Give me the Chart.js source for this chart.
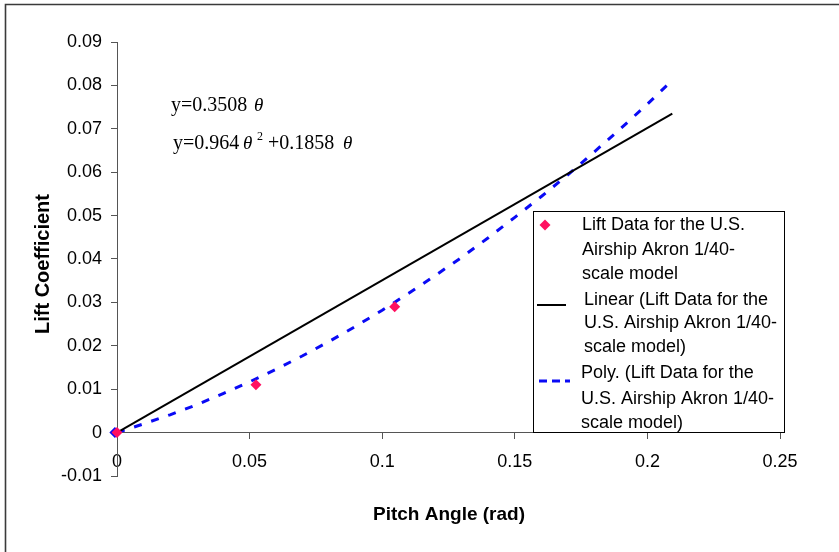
<!DOCTYPE html>
<html>
<head>
<meta charset="utf-8">
<script src="https://cdn.jsdelivr.net/npm/chart.js@4/dist/chart.umd.min.js"></script>
<style>
html,body{margin:0;padding:0;background:#fff;}
#wrap{width:839px;height:552px;position:relative;}
</style>
</head>
<body>
<div id="wrap"><canvas id="c" width="839" height="552"></canvas></div>
<script>
// ---- data ----
const xTickValues = [0, 0.05, 0.1, 0.15, 0.2, 0.25];
const xTickLabels = ['0', '0.05', '0.1', '0.15', '0.2', '0.25'];
const yTickValues = [-0.01, 0, 0.01, 0.02, 0.03, 0.04, 0.05, 0.06, 0.07, 0.08, 0.09];
const yTickLabels = ['-0.01', '0', '0.01', '0.02', '0.03', '0.04', '0.05', '0.06', '0.07', '0.08', '0.09'];

const liftX = [0, 0.0524, 0.1047];
const liftY = [0, 0.011, 0.029];

const linearX = [0, 0.2094];
const linearY = [0, 0.0735];

const polyX = [0, 0.01, 0.02, 0.03, 0.04, 0.05, 0.06, 0.07, 0.08, 0.09, 0.10, 0.11, 0.12, 0.13, 0.14, 0.15, 0.16, 0.17, 0.18, 0.19, 0.20, 0.2094];
const polyY = [0, 0.0020, 0.0041, 0.0064, 0.0090, 0.0117, 0.0146, 0.0177, 0.0210, 0.0245, 0.0282, 0.0321, 0.0362, 0.0404, 0.0449, 0.0496, 0.0544, 0.0594, 0.0647, 0.0701, 0.0757, 0.0812];

const blueMarkX = [-0.0008];
const blueMarkY = [0];

const legendLines = [
  ['Lift Data for the U.S.', 'Airship Akron 1/40-', 'scale model'],
  ['Linear (Lift Data for the', 'U.S. Airship Akron 1/40-', 'scale model)'],
  ['Poly. (Lift Data for the', 'U.S. Airship Akron 1/40-', 'scale model)']
];
const xTitle = 'Pitch Angle (rad)';
const yTitle = 'Lift Coefficient';
const eq1 = ['y=0.3508', '\u03B8'];
const eq2 = ['y=0.964', '\u03B8', '2', '+0.1858', '\u03B8'];

const zip = (xs, ys) => xs.map((x, i) => ({x: x, y: ys[i]}));

const RED = '#FF1060';
const BLUE = '#0A0AF5';
const AXIS = '#555555';

const decor = {
  id: 'decor',
  beforeDraw(chart) {
    const ctx = chart.ctx;
    ctx.save();
    ctx.fillStyle = '#fff';
    ctx.fillRect(0, 0, chart.width, chart.height);
    ctx.strokeStyle = '#3a3a3a';
    ctx.lineWidth = 1.6;
    ctx.beginPath();
    ctx.moveTo(5.5, 552);
    ctx.lineTo(5.5, 4.5);
    ctx.lineTo(839, 4.5);
    ctx.stroke();
    ctx.restore();
  },
  afterDraw(chart) {
    const ctx = chart.ctx;
    ctx.save();
    // axis titles
    ctx.fillStyle = '#000';
    ctx.textAlign = 'center';
    ctx.textBaseline = 'middle';
    ctx.font = 'bold 19px "Liberation Sans", Arial, sans-serif';
    ctx.fillText(xTitle, 449, 515);
    ctx.save();
    ctx.translate(43, 264);
    ctx.rotate(-Math.PI / 2);
    ctx.font = 'bold 20px "Liberation Sans", Arial, sans-serif';
    ctx.fillText(yTitle, 0, 0);
    ctx.restore();

    // equations
    ctx.textAlign = 'left';
    ctx.textBaseline = 'alphabetic';
    const serif = '"Liberation Serif", "Times New Roman", serif';
    const reg = '20px ' + serif;
    const th = 'italic 19px ' + serif;
    const sup = '12px ' + serif;
    ctx.font = reg;
    ctx.fillText(eq1[0], 171, 111);
    ctx.font = th;
    ctx.fillText(eq1[1], 254, 111);

    ctx.font = reg;
    ctx.fillText(eq2[0], 173, 149);
    ctx.font = th;
    ctx.fillText(eq2[1], 243, 149);
    ctx.font = sup;
    ctx.fillText(eq2[2], 257, 140);
    ctx.font = reg;
    ctx.fillText(eq2[3], 268, 149);
    ctx.font = th;
    ctx.fillText(eq2[4], 343, 149);

    // legend
    const bx = 533.5, by = 211.5, bw = 251, bh = 221;
    ctx.fillStyle = '#fff';
    ctx.fillRect(bx, by, bw, bh);
    ctx.strokeStyle = '#000';
    ctx.lineWidth = 1;
    ctx.strokeRect(bx, by, bw, bh);

    ctx.fillStyle = '#000';
    ctx.font = '18px "Liberation Sans", Arial, sans-serif';
    ctx.textBaseline = 'middle';
    const rows = [[225, 250, 274], [300, 323, 347], [373, 399, 423]];
    const xs = [582, 584, 581];
    legendLines.forEach((lines, i) => {
      lines.forEach((t, j) => ctx.fillText(t, xs[i], rows[i][j]));
    });
    // markers
    ctx.fillStyle = RED;
    ctx.beginPath();
    ctx.moveTo(545, 219.5); ctx.lineTo(550.5, 225); ctx.lineTo(545, 230.5); ctx.lineTo(539.5, 225);
    ctx.closePath(); ctx.fill();
    ctx.strokeStyle = '#000';
    ctx.lineWidth = 2;
    ctx.beginPath(); ctx.moveTo(537, 305); ctx.lineTo(566, 305); ctx.stroke();
    ctx.strokeStyle = BLUE;
    ctx.lineWidth = 3;
    ctx.setLineDash([8, 5]);
    ctx.beginPath(); ctx.moveTo(539, 381); ctx.lineTo(570, 381); ctx.stroke();
    ctx.restore();
  }
};

new Chart(document.getElementById('c'), {
  type: 'scatter',
  data: {
    datasets: [
      {
        label: 'blue',
        data: zip(blueMarkX, blueMarkY),
        pointStyle: 'rectRot', pointRadius: 5.5,
        backgroundColor: BLUE, borderColor: BLUE, borderWidth: 0,
        clip: false, order: 4
      },
      {
        label: 'Poly',
        data: zip(polyX, polyY),
        showLine: true, pointRadius: 0, borderColor: BLUE, borderWidth: 3,
        borderDash: [8, 10], tension: 0, fill: false, clip: false, order: 3
      },
      {
        label: 'Linear',
        data: zip(linearX, linearY),
        showLine: true, pointRadius: 0, borderColor: '#000', borderWidth: 2,
        tension: 0, fill: false, clip: false, order: 2
      },
      {
        label: 'Lift Data',
        data: zip(liftX, liftY),
        pointStyle: 'rectRot', pointRadius: 5.5,
        backgroundColor: RED, borderColor: RED, borderWidth: 0,
        clip: false, order: 1
      }
    ]
  },
  options: {
    responsive: false,
    animation: false,
    events: [],
    layout: {padding: {left: 0, top: 42, right: 59, bottom: 76}},
    plugins: {legend: {display: false}, tooltip: {enabled: false}},
    scales: {
      x: {
        type: 'linear',
        position: {y: 0},
        min: 0, max: 0.25,
        afterBuildTicks: s => { s.ticks = xTickValues.map(v => ({value: v})); },
        ticks: {
          callback: (v, i) => xTickLabels[i],
          color: '#000',
          font: {family: '"Liberation Sans", Arial, sans-serif', size: 18},
          padding: 13,
          maxRotation: 0, autoSkip: false
        },
        grid: {drawOnChartArea: false, drawTicks: true, tickLength: 6, color: AXIS, lineWidth: 1},
        border: {display: true, color: AXIS, width: 1}
      },
      y: {
        type: 'linear',
        position: 'left',
        min: -0.01, max: 0.09,
        afterBuildTicks: s => { s.ticks = yTickValues.map(v => ({value: v})); },
        afterFit: s => { s.width = 117; },
        ticks: {
          callback: (v, i) => yTickLabels[i],
          color: '#000',
          font: {family: '"Liberation Sans", Arial, sans-serif', size: 18},
          padding: 9,
          autoSkip: false
        },
        grid: {drawOnChartArea: false, drawTicks: true, tickLength: 6, color: AXIS, lineWidth: 1},
        border: {display: true, color: AXIS, width: 1}
      }
    }
  },
  plugins: [decor]
});
</script>
</body>
</html>
